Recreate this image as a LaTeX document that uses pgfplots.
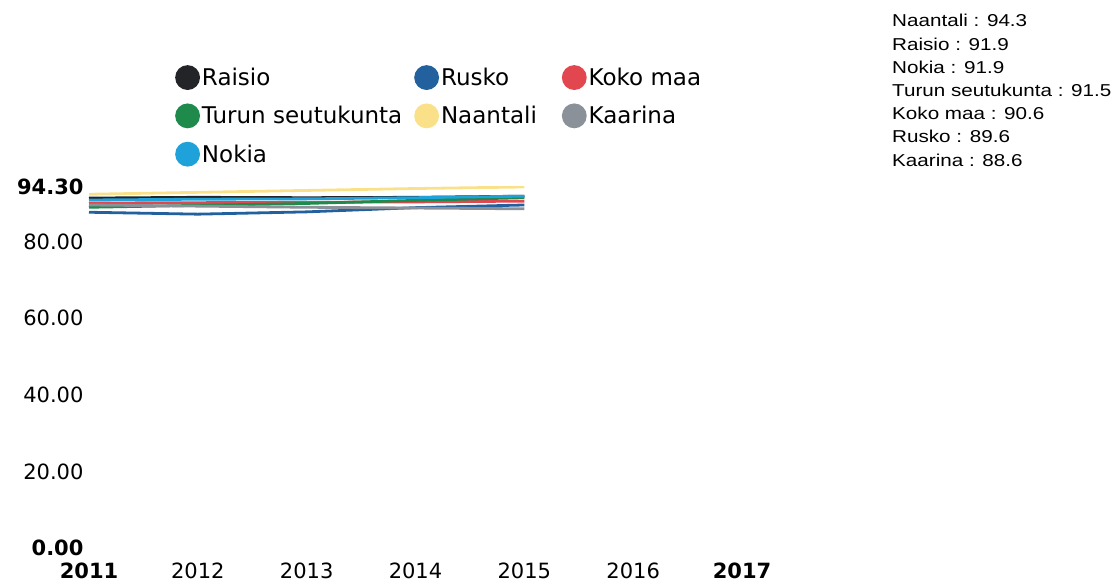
\documentclass[border=0pt]{standalone}
\usepackage{pgfplots}
\pgfplotsset{compat=1.18}
\usepackage{fontspec}
\setmainfont{DejaVu Sans}
\newfontfamily\arial[FakeStretch=1.2]{Liberation Sans}
\definecolor{cRaisio}{HTML}{222428}
\definecolor{cRusko}{HTML}{22609E}
\definecolor{cKoko}{HTML}{E2474F}
\definecolor{cTurun}{HTML}{1E8A4C}
\definecolor{cNaantali}{HTML}{FBE08A}
\definecolor{cKaarina}{HTML}{8A9199}
\definecolor{cNokia}{HTML}{1FA2DA}
\begin{document}
\begin{tikzpicture}[x=1pt,y=1pt]
\useasboundingbox (0,0) rectangle (1120,585);
\begin{axis}[
  at={(89pt,37pt)}, anchor=south west,
  scale only axis, width=653pt, height=361pt,
  xmin=2011, xmax=2017, ymin=0, ymax=94.3,
  enlargelimits=false,
  axis line style={draw=none}, tick style={draw=none},
  xtick={2011,2012,2013,2014,2015,2016,2017},
  xticklabels={\textbf{2011},2012,2013,2014,2015,2016,\textbf{2017}},
  ytick={0,20,40,60,80,94.3},
  yticklabels={\textbf{0.00},20.00,40.00,60.00,80.00,\textbf{94.30}},
  ticklabel style={font=\fontsize{21}{23}\selectfont},
  xticklabel style={yshift=-11pt},
  yticklabel style={xshift=-2pt},
  /pgf/number format/assume math mode=true,
  legend columns=3,
  legend style={at={(0.1317,1.338)}, anchor=north west, draw=none, fill=none,
    font=\fontsize{23}{25}\selectfont, inner sep=0pt,
    /tikz/column 2/.style={column sep=10pt},
    /tikz/column 4/.style={column sep=23pt},
    row sep=13.5pt,
    nodes={inner sep=2pt}},
  legend cell align=left,
  legend image code/.code={\fill[#1] (0pt,0pt) circle (11pt);},
  every axis plot/.append style={line width=2.8pt},
]
\addplot[cRaisio] coordinates {(2011,91.4) (2012,91.6) (2013,91.5) (2014,91.6) (2015,91.9)};
\addplot[cRusko] coordinates {(2011,87.7) (2012,87.2) (2013,87.8) (2014,88.9) (2015,89.6)};
\addplot[cKoko] coordinates {(2011,90.1) (2012,90.2) (2013,90.3) (2014,90.4) (2015,90.6)};
\addplot[cTurun] coordinates {(2011,89.0) (2012,89.5) (2013,90.0) (2014,90.8) (2015,91.5)};
\addplot[cNaantali] coordinates {(2011,92.4) (2012,92.9) (2013,93.4) (2014,93.9) (2015,94.3)};
\addplot[cKaarina] coordinates {(2011,89.6) (2012,89.3) (2013,89.0) (2014,88.8) (2015,88.6)};
\addplot[cNokia] coordinates {(2011,90.9) (2012,91.1) (2013,91.2) (2014,91.5) (2015,91.9)};
\legend{Raisio,Rusko,Koko maa,Turun seutukunta,Naantali,Kaarina,Nokia}
\end{axis}
\foreach \t [count=\i from 0] in {Naantali : 94.3,Raisio : 91.9,Nokia : 91.9,Turun seutukunta : 91.5,Koko maa : 90.6,Rusko : 89.6,Kaarina : 88.6}
  \node[anchor=base west, inner sep=0pt, font=\arial\fontsize{17.2}{20}\selectfont] at (892,{585-27-23.2*\i}) {\t};
\end{tikzpicture}
\end{document}
